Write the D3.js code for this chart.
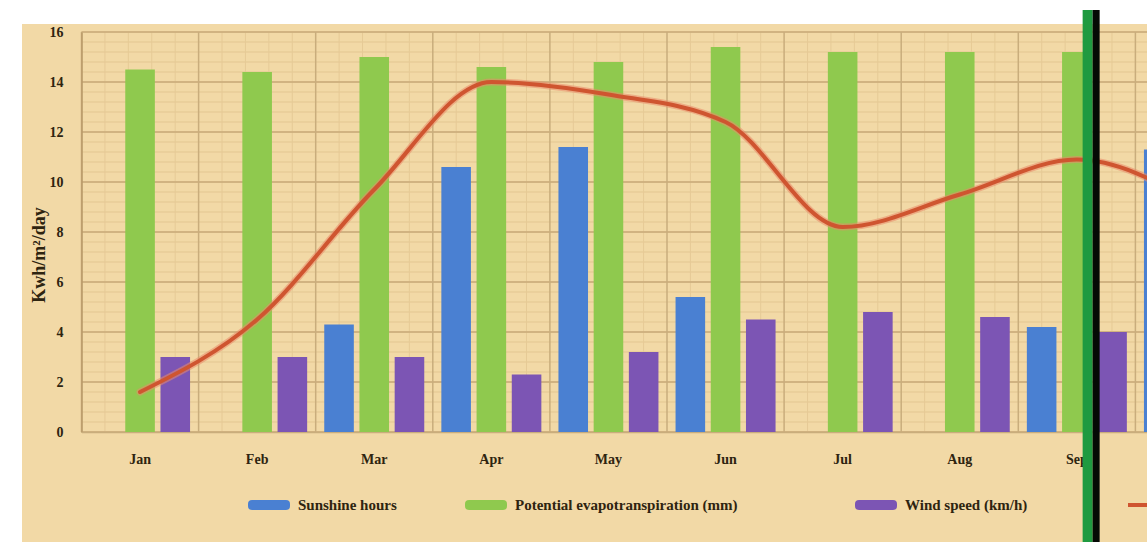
<!DOCTYPE html>
<html>
<head>
<meta charset="utf-8">
<script src="https://cdn.jsdelivr.net/npm/d3@7/dist/d3.min.js"></script>
<style>
  html, body { margin: 0; padding: 0; background: #ffffff; overflow: hidden; }
  svg { display: block; }
  text { font-family: "Liberation Serif", "DejaVu Serif", serif; font-weight: bold; fill: #2e2410; }
</style>
</head>
<body>
<script>
// Monthly climate figures (Jan–Oct)
const months = ["Jan", "Feb", "Mar", "Apr", "May", "Jun", "Jul", "Aug", "Sep", "Oct"];
const sunshineHours = [0, 0, 4.3, 10.6, 11.4, 5.4, 0, 0, 4.2, 11.3];
const evapotranspiration = [14.5, 14.4, 15.0, 14.6, 14.8, 15.4, 15.2, 15.2, 15.2, null];
const windSpeed = [3.0, 3.0, 3.0, 2.3, 3.2, 4.5, 4.8, 4.6, 4.0, null];
const solarRadiation = [1.6, 4.5, 9.7, 14.0, 13.5, 12.4, 8.2, 9.5, 10.9, 9.2];
const yTicks = [0, 2, 4, 6, 8, 10, 12, 14, 16];

const seriesNames = ["Sunshine hours", "Potential evapotranspiration (mm)", "Wind speed (km/h)"];
const seriesValues = [sunshineHours, evapotranspiration, windSpeed];
const seriesColors = ["#4a80d2", "#8fc94e", "#7c55b4"];
const lineName = "Solar radiation";
const lineColor = "#cf5530";

const VIEW_W = 1147;          // visible frame; the month bands run on past it
const W = 1500, H = 542;
const plot = { left: 81.5, top: 32, bottom: 432 };
const step = 117.1;

const svg = d3.select("body").append("svg")
  .attr("width", W).attr("height", H);

// paper background
svg.append("rect").attr("x", 0).attr("y", 0).attr("width", W).attr("height", H).attr("fill", "#ffffff");
svg.append("rect").attr("x", 22).attr("y", 24).attr("width", W).attr("height", H)
  .attr("fill", "#f2d9a6");

const x = d3.scaleBand().domain(months)
  .range([plot.left, plot.left + step * months.length])
  .paddingInner(0).paddingOuter(0);
const xInner = d3.scaleBand().domain(d3.range(3))
  .range([-50, 50]).paddingInner(0.16).paddingOuter(0);
const y = d3.scaleLinear().domain([0, 16]).range([plot.bottom, plot.top]);

const grid = svg.append("g");
// minor horizontal lines
d3.range(0, 16.01, 0.4).forEach(v => {
  grid.append("line").attr("x1", plot.left).attr("x2", W)
    .attr("y1", y(v)).attr("y2", y(v))
    .attr("stroke", "#e3c691").attr("stroke-width", 1);
});
// minor vertical lines
months.forEach(m => {
  for (let k = 1; k < 5; k++) {
    const xx = x(m) + x.bandwidth() * k / 5;
    grid.append("line").attr("x1", xx).attr("x2", xx)
      .attr("y1", plot.top).attr("y2", plot.bottom)
      .attr("stroke", "#e6ca96").attr("stroke-width", 1);
  }
});
// major horizontal lines
yTicks.forEach(v => {
  grid.append("line").attr("x1", plot.left).attr("x2", W)
    .attr("y1", y(v)).attr("y2", y(v))
    .attr("stroke", "#c8aa78").attr("stroke-width", 1.5);
});
// major vertical lines at month boundaries
months.forEach(m => {
  grid.append("line").attr("x1", x(m)).attr("x2", x(m))
    .attr("y1", plot.top).attr("y2", plot.bottom)
    .attr("stroke", "#c9ad7c").attr("stroke-width", 1.5);
});

// y axis
const yAxis = d3.axisLeft(y).tickValues(yTicks).tickSize(0).tickPadding(18)
  .tickFormat(d3.format("d"));
const yg = svg.append("g").attr("transform", `translate(${plot.left},0)`).call(yAxis);
yg.select(".domain").attr("stroke", "#b89a68").attr("stroke-width", 1.5);
yg.selectAll("text").style("font-size", "14px").attr("fill", "#2e2410");

svg.append("text")
  .attr("transform", `translate(45,255) rotate(-90)`)
  .attr("text-anchor", "middle")
  .style("font-size", "18px")
  .text("Kwh/m²/day");

// x axis: label only the months whose label sits inside the frame
const labelled = months.filter(m => x(m) + x.bandwidth() / 2 + 20 < VIEW_W);
const xAxis = d3.axisBottom(x).tickValues(labelled).tickSize(0).tickPadding(22);
const xg = svg.append("g").attr("transform", `translate(0,${plot.bottom})`).call(xAxis);
xg.select(".domain").attr("stroke", "#c9ad7c").attr("stroke-width", 1.5);
xg.selectAll("text").style("font-size", "14px").attr("fill", "#2e2410");

// bars
seriesValues.forEach((vals, si) => {
  svg.append("g").selectAll("rect")
    .data(months.map((m, i) => ({ m, v: vals[i] })).filter(d => d.v != null && d.v > 0))
    .join("rect")
    .attr("x", d => x(d.m) + x.bandwidth() / 2 + xInner(si))
    .attr("width", xInner.bandwidth())
    .attr("y", d => y(d.v))
    .attr("height", d => y(0) - y(d.v))
    .attr("fill", seriesColors[si]);
});

// solar radiation curve
const line = d3.line()
  .x((d, i) => x(months[i]) + x.bandwidth() / 2)
  .y(d => y(d))
  .curve(d3.curveMonotoneX);
svg.append("path").datum(solarRadiation)
  .attr("d", line)
  .attr("fill", "none")
  .attr("stroke", "#e98a6a").attr("stroke-width", 7).attr("stroke-opacity", 0.55)
  .attr("stroke-linecap", "round");
svg.append("path").datum(solarRadiation)
  .attr("d", line)
  .attr("fill", "none")
  .attr("stroke", lineColor).attr("stroke-width", 4)
  .attr("stroke-linecap", "round");

// legend
const legendY = 505;
const legendItems = [
  { name: seriesNames[0], color: seriesColors[0], x: 248, type: "bar" },
  { name: seriesNames[1], color: seriesColors[1], x: 465, type: "bar" },
  { name: seriesNames[2], color: seriesColors[2], x: 855, type: "bar" },
  { name: lineName, color: lineColor, x: 1128, type: "line" }
];
const lg = svg.append("g");
legendItems.forEach(it => {
  if (it.type === "bar") {
    lg.append("rect").attr("x", it.x).attr("y", legendY - 5)
      .attr("width", 42).attr("height", 10).attr("rx", 4)
      .attr("fill", it.color);
  } else {
    lg.append("line").attr("x1", it.x).attr("x2", it.x + 40)
      .attr("y1", legendY).attr("y2", legendY)
      .attr("stroke", it.color).attr("stroke-width", 4);
  }
  // the entry's label is only drawn when it starts inside the frame
  if (it.x + 50 < VIEW_W) {
    lg.append("text").attr("x", it.x + 50).attr("y", legendY + 5)
      .style("font-size", "15px").text(it.name);
  }
});

// vertical marker after the September evapotranspiration bar
const markerX = x("Sep") + x.bandwidth() / 2 + xInner(1) + xInner.bandwidth();
svg.append("rect").attr("x", markerX - 9).attr("y", 10)
  .attr("width", 10).attr("height", H - 10).attr("fill", "#1f9a40");
svg.append("rect").attr("x", markerX + 1).attr("y", 10)
  .attr("width", 7).attr("height", H - 10).attr("fill", "#050a05");
</script>
</body>
</html>
